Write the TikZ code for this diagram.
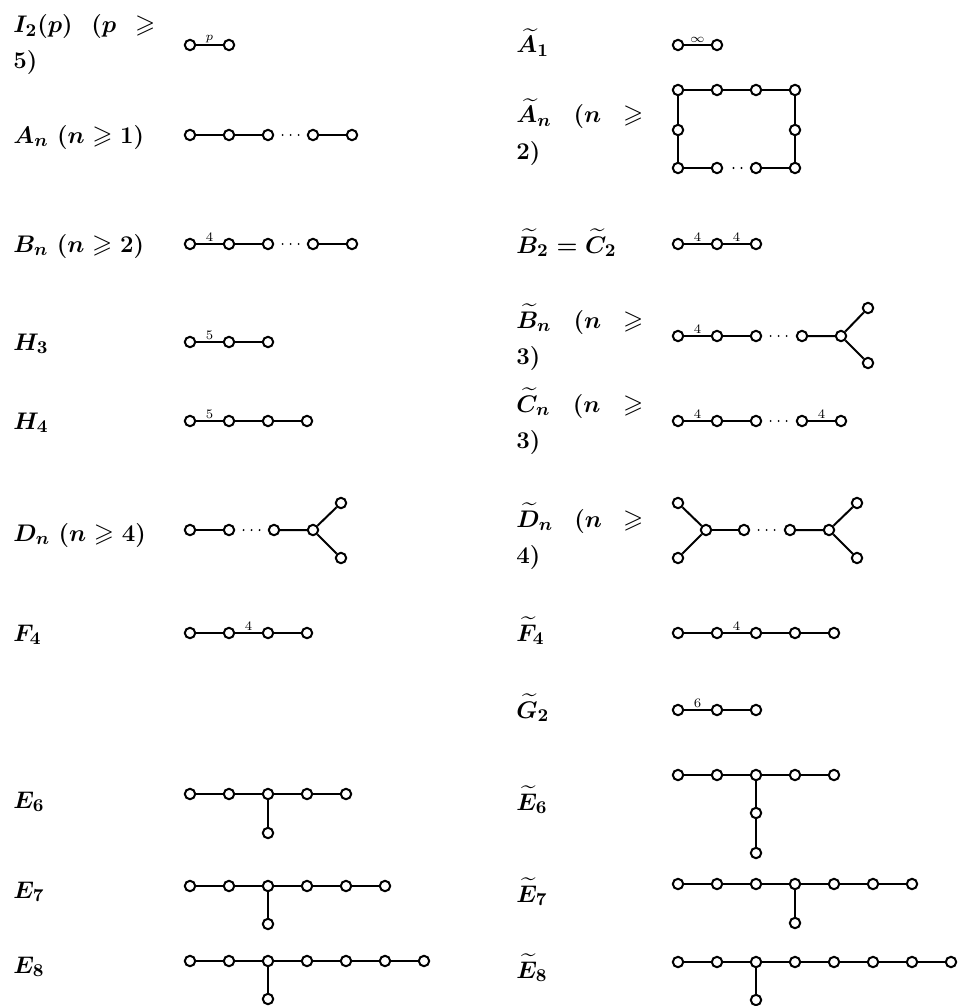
\documentclass[tikz,border=0pt]{standalone}
\usepackage{amsmath, amssymb}
\usepackage{tikz}
\usetikzlibrary{arrows.meta, positioning}

\tikzset{
  vx/.style={draw, circle, fill=white, inner sep=0pt, minimum size=5.2pt, line width=1pt},
  link/.style={line width=1pt},
  dotsline/.style={line width=1.1pt, line cap=round, dash pattern=on 0pt off 4pt, shorten <=4.2pt, shorten >=3.6pt},
  wt/.style={above, inner sep=0.6pt, font=\fontsize{6.5}{7}\selectfont},
  lbl/.style={anchor=base west, inner sep=0pt, font=\fontsize{13}{18}\selectfont\boldmath},
}
\newcommand{\twoline}[3]{\parbox[t]{#1}{\noindent\hbox to #1{#2}\par\noindent #3}}

\begin{document}
\begin{tikzpicture}[x=0.5pt, y=-0.5pt]
    \useasboundingbox (0,0) rectangle (961,1006);

    % I_2(p)
    \node[lbl] (lI) at (13,33) {\twoline{71pt}{$I_2(p)$\hfill$(p$\hfill$\geqslant$}{$5)$}};
    \node[vx] (i1) at (190,45) {};
    \node[vx] (i2) at (229,45) {};
    \draw[link] (i1) -- node[wt] {$p$} (i2);

    % A_n
    \node[lbl] (lA) at (13,143) {$A_n\ (n \geqslant 1)$};
    \node[vx] (a1) at (190,135) {};
    \node[vx] (a2) at (229,135) {};
    \node[vx] (a3) at (268,135) {};
    \node[vx] (a4) at (313,135) {};
    \node[vx] (a5) at (352,135) {};
    \draw[link] (a1) -- (a2) -- (a3);
    \draw[dotsline] (a3) -- (a4);
    \draw[link] (a4) -- (a5);

    % B_n
    \node[lbl] (lB) at (13,252) {$B_n\ (n \geqslant 2)$};
    \node[vx] (b1) at (190,244) {};
    \node[vx] (b2) at (229,244) {};
    \node[vx] (b3) at (268,244) {};
    \node[vx] (b4) at (313,244) {};
    \node[vx] (b5) at (352,244) {};
    \draw[link] (b1) -- node[wt] {4} (b2);
    \draw[link] (b2) -- (b3);
    \draw[dotsline] (b3) -- (b4);
    \draw[link] (b4) -- (b5);

    % H_3
    \node[lbl] (lH3) at (13,350) {$H_3$};
    \node[vx] (h31) at (190,342) {};
    \node[vx] (h32) at (229,342) {};
    \node[vx] (h33) at (268,342) {};
    \draw[link] (h31) -- node[wt] {5} (h32);
    \draw[link] (h32) -- (h33);

    % H_4
    \node[lbl] (lH4) at (13,429) {$H_4$};
    \node[vx] (h41) at (190,421) {};
    \node[vx] (h42) at (229,421) {};
    \node[vx] (h43) at (268,421) {};
    \node[vx] (h44) at (307,421) {};
    \draw[link] (h41) -- node[wt] {5} (h42);
    \draw[link] (h42) -- (h43) -- (h44);

    % D_n
    \node[lbl] (lD) at (13,541) {$D_n\ (n \geqslant 4)$};
    \node[vx] (d1) at (190,530) {};
    \node[vx] (d2) at (229,530) {};
    \node[vx] (d3) at (274,530) {};
    \node[vx] (d4) at (313,530) {};
    \node[vx] (d5) at (341,503) {};
    \node[vx] (d6) at (341,558) {};
    \draw[link] (d1) -- (d2);
    \draw[dotsline] (d2) -- (d3);
    \draw[link] (d3) -- (d4) -- (d5);
    \draw[link] (d4) -- (d6);

    % F_4
    \node[lbl] (lF) at (13,641) {$F_4$};
    \node[vx] (f1) at (190,633) {};
    \node[vx] (f2) at (229,633) {};
    \node[vx] (f3) at (268,633) {};
    \node[vx] (f4) at (307,633) {};
    \draw[link] (f1) -- (f2);
    \draw[link] (f2) -- node[wt] {4} (f3);
    \draw[link] (f3) -- (f4);

    % E_6
    \node[lbl] (lE6) at (13,808) {$E_6$};
    \node[vx] (e61) at (190,794) {};
    \node[vx] (e62) at (229,794) {};
    \node[vx] (e63) at (268,794) {};
    \node[vx] (e64) at (307,794) {};
    \node[vx] (e65) at (346,794) {};
    \node[vx] (e66) at (268,833) {};
    \draw[link] (e61) -- (e62) -- (e63) -- (e64) -- (e65);
    \draw[link] (e63) -- (e66);

    % E_7
    \node[lbl] (lE7) at (13,898) {$E_7$};
    \node[vx] (e71) at (190,886) {};
    \node[vx] (e72) at (229,886) {};
    \node[vx] (e73) at (268,886) {};
    \node[vx] (e74) at (307,886) {};
    \node[vx] (e75) at (346,886) {};
    \node[vx] (e76) at (385,886) {};
    \node[vx] (e77) at (268,924) {};
    \draw[link] (e71) -- (e72) -- (e73) -- (e74) -- (e75) -- (e76);
    \draw[link] (e73) -- (e77);

    % E_8
    \node[lbl] (lE8) at (13,973) {$E_8$};
    \node[vx] (e81) at (190,961) {};
    \node[vx] (e82) at (229,961) {};
    \node[vx] (e83) at (268,961) {};
    \node[vx] (e84) at (307,961) {};
    \node[vx] (e85) at (346,961) {};
    \node[vx] (e86) at (385,961) {};
    \node[vx] (e87) at (424,961) {};
    \node[vx] (e88) at (268,999) {};
    \draw[link] (e81) -- (e82) -- (e83) -- (e84) -- (e85) -- (e86) -- (e87);
    \draw[link] (e83) -- (e88);

    % affine A_1
    \node[lbl] (ltA1) at (516,53) {$\widetilde{A}_1$};
    \node[vx] (ta11) at (678,45) {};
    \node[vx] (ta12) at (717,45) {};
    \draw[link] (ta11) -- node[wt] {$\infty$} (ta12);

    % affine A_n
    \node[lbl] (ltA) at (516,123) {\twoline{63.5pt}{$\widetilde{A}_n$\hfill$(n$\hfill$\geqslant$}{$2)$}};
    \node[vx] (ta1) at (678,90) {};
    \node[vx] (ta2) at (717,90) {};
    \node[vx] (ta3) at (756,90) {};
    \node[vx] (ta4) at (795,90) {};
    \node[vx] (ta5) at (795,130) {};
    \node[vx] (ta6) at (795,168) {};
    \node[vx] (ta7) at (756,168) {};
    \node[vx] (ta8) at (717,168) {};
    \node[vx] (ta9) at (678,168) {};
    \node[vx] (ta10) at (678,130) {};
    \draw[link] (ta1) -- (ta2) -- (ta3) -- (ta4) -- (ta5) -- (ta6) -- (ta7);
    \draw[dotsline] (ta7) -- (ta8);
    \draw[link] (ta8) -- (ta9) -- (ta10) -- (ta1);

    % affine B_2 = C_2
    \node[lbl] (ltB2) at (516,253) {$\widetilde{B}_2 = \widetilde{C}_2$};
    \node[vx] (tb21) at (678,244) {};
    \node[vx] (tb22) at (717,244) {};
    \node[vx] (tb23) at (756,244) {};
    \draw[link] (tb21) -- node[wt] {4} (tb22);
    \draw[link] (tb22) -- node[wt] {4} (tb23);

    % affine B_n
    \node[lbl] (ltB) at (516,328) {\twoline{63.5pt}{$\widetilde{B}_n$\hfill$(n$\hfill$\geqslant$}{$3)$}};
    \node[vx] (tb1) at (678,336) {};
    \node[vx] (tb2) at (717,336) {};
    \node[vx] (tb3) at (756,336) {};
    \node[vx] (tb4) at (802,336) {};
    \node[vx] (tb5) at (841,336) {};
    \node[vx] (tb6) at (868,308) {};
    \node[vx] (tb7) at (868,363) {};
    \draw[link] (tb1) -- node[wt] {4} (tb2);
    \draw[link] (tb2) -- (tb3);
    \draw[dotsline] (tb3) -- (tb4);
    \draw[link] (tb4) -- (tb5) -- (tb6);
    \draw[link] (tb5) -- (tb7);

    % affine C_n
    \node[lbl] (ltC) at (516,412) {\twoline{63.5pt}{$\widetilde{C}_n$\hfill$(n$\hfill$\geqslant$}{$3)$}};
    \node[vx] (tc1) at (678,421) {};
    \node[vx] (tc2) at (717,421) {};
    \node[vx] (tc3) at (756,421) {};
    \node[vx] (tc4) at (802,421) {};
    \node[vx] (tc5) at (841,421) {};
    \draw[link] (tc1) -- node[wt] {4} (tc2);
    \draw[link] (tc2) -- (tc3);
    \draw[dotsline] (tc3) -- (tc4);
    \draw[link] (tc4) -- node[wt] {4} (tc5);

    % affine D_n
    \node[lbl] (ltD) at (516,527) {\twoline{63.5pt}{$\widetilde{D}_n$\hfill$(n$\hfill$\geqslant$}{$4)$}};
    \node[vx] (td1) at (678,503) {};
    \node[vx] (td2) at (678,558) {};
    \node[vx] (td3) at (706,530) {};
    \node[vx] (td4) at (744,530) {};
    \node[vx] (td5) at (790,530) {};
    \node[vx] (td6) at (829,530) {};
    \node[vx] (td7) at (857,503) {};
    \node[vx] (td8) at (857,558) {};
    \draw[link] (td1) -- (td3) -- (td2);
    \draw[link] (td3) -- (td4);
    \draw[dotsline] (td4) -- (td5);
    \draw[link] (td5) -- (td6) -- (td7);
    \draw[link] (td6) -- (td8);

    % affine F_4
    \node[lbl] (ltF) at (516,641) {$\widetilde{F}_4$};
    \node[vx] (tf1) at (678,633) {};
    \node[vx] (tf2) at (717,633) {};
    \node[vx] (tf3) at (756,633) {};
    \node[vx] (tf4) at (795,633) {};
    \node[vx] (tf5) at (834,633) {};
    \draw[link] (tf1) -- (tf2);
    \draw[link] (tf2) -- node[wt] {4} (tf3);
    \draw[link] (tf3) -- (tf4) -- (tf5);

    % affine G_2
    \node[lbl] (ltG) at (516,718) {$\widetilde{G}_2$};
    \node[vx] (tg1) at (678,710) {};
    \node[vx] (tg2) at (717,710) {};
    \node[vx] (tg3) at (756,710) {};
    \draw[link] (tg1) -- node[wt] {6} (tg2);
    \draw[link] (tg2) -- (tg3);

    % affine E_6
    \node[lbl] (ltE6) at (516,810) {$\widetilde{E}_6$};
    \node[vx] (te61) at (678,775) {};
    \node[vx] (te62) at (717,775) {};
    \node[vx] (te63) at (756,775) {};
    \node[vx] (te64) at (795,775) {};
    \node[vx] (te65) at (834,775) {};
    \node[vx] (te66) at (756,813) {};
    \node[vx] (te67) at (756,853) {};
    \draw[link] (te61) -- (te62) -- (te63) -- (te64) -- (te65);
    \draw[link] (te63) -- (te66) -- (te67);

    % affine E_7
    \node[lbl] (ltE7) at (516,902) {$\widetilde{E}_7$};
    \node[vx] (te71) at (678,884) {};
    \node[vx] (te72) at (717,884) {};
    \node[vx] (te73) at (756,884) {};
    \node[vx] (te74) at (795,884) {};
    \node[vx] (te75) at (834,884) {};
    \node[vx] (te76) at (873,884) {};
    \node[vx] (te77) at (912,884) {};
    \node[vx] (te78) at (795,923) {};
    \draw[link] (te71) -- (te72) -- (te73) -- (te74) -- (te75) -- (te76) -- (te77);
    \draw[link] (te74) -- (te78);

    % affine E_8
    \node[lbl] (ltE8) at (516,978) {$\widetilde{E}_8$};
    \node[vx] (te81) at (678,962) {};
    \node[vx] (te82) at (717,962) {};
    \node[vx] (te83) at (756,962) {};
    \node[vx] (te84) at (795,962) {};
    \node[vx] (te85) at (834,962) {};
    \node[vx] (te86) at (873,962) {};
    \node[vx] (te87) at (912,962) {};
    \node[vx] (te88) at (951,962) {};
    \node[vx] (te89) at (756,1000) {};
    \draw[link] (te81) -- (te82) -- (te83) -- (te84) -- (te85) -- (te86) -- (te87) -- (te88);
    \draw[link] (te83) -- (te89);
\end{tikzpicture}
\end{document}
